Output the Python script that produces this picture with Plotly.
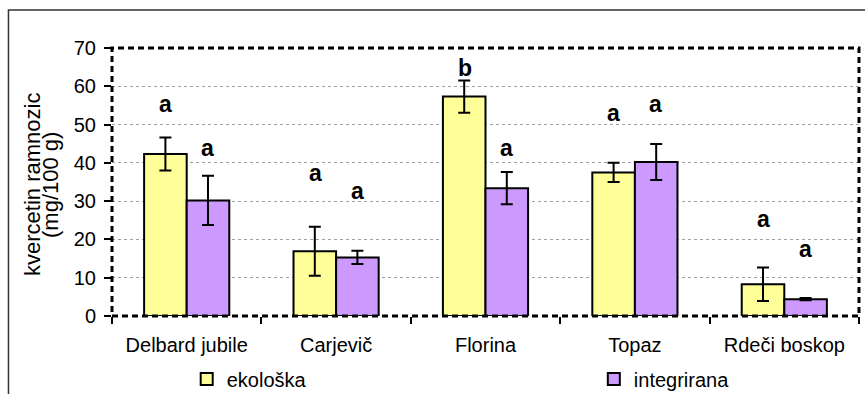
import plotly.graph_objects as go

# Apple cultivars and the two growing systems
cultivars = ["Delbard jubile", "Carjevič", "Florina", "Topaz", "Rdeči boskop"]
series_names = ["ekološka", "integrirana"]

# Quercetin rhamnoside content (mg/100 g) with standard deviations
eko_values = [42.3, 16.9, 57.3, 37.5, 8.3]
eko_errors = [4.3, 6.4, 4.2, 2.5, 4.4]
int_values = [30.2, 15.3, 33.4, 40.2, 4.4]
int_errors = [6.4, 1.75, 4.2, 4.7, 0.3]

# Significance letters and the heights where they are written
eko_letters = ["a", "a", "b", "a", "a"]
eko_letter_y = [55.3, 37.3, 64.8, 53.0, 25.3]
int_letters = ["a", "a", "a", "a", "a"]
int_letter_y = [44.0, 32.7, 44.0, 55.4, 17.4]

y_ticks = [0, 10, 20, 30, 40, 50, 60, 70]

FONT = "Liberation Sans, Arial, sans-serif"
YELLOW = "#FFFF99"
PURPLE = "#CC99FF"

fig = go.Figure()
for name, vals, errs, color, leg in [
    (series_names[0], eko_values, eko_errors, YELLOW, "legend"),
    (series_names[1], int_values, int_errors, PURPLE, "legend2"),
]:
    fig.add_trace(go.Bar(
        x=cultivars, y=vals, name=name, legend=leg,
        marker=dict(color=color, line=dict(color="black", width=2)),
        error_y=dict(type="data", array=errs, visible=True,
                     color="black", thickness=2, width=6),
    ))

# Letters above each bar
annotations = []
for letters, ys, shift in [(eko_letters, eko_letter_y, -21), (int_letters, int_letter_y, 21)]:
    for cat, letter, yv in zip(cultivars, letters, ys):
        annotations.append(dict(
            x=cat, y=yv, xref="x", yref="y", text=letter, showarrow=False,
            xshift=shift, yanchor="middle",
            font=dict(family=FONT, size=23, color="black", weight="bold"),
        ))

# Two-line y-axis title
annotations.append(dict(x=0, y=0.5, xref="paper", yref="paper", text="kvercetin ramnozic",
                        textangle=-90, showarrow=False, xanchor="center", yanchor="middle",
                        xshift=-80, yshift=-3, font=dict(family=FONT, size=22, color="black")))
annotations.append(dict(x=0, y=0.5, xref="paper", yref="paper", text="(mg/100 g)",
                        textangle=-90, showarrow=False, xanchor="center", yanchor="middle",
                        xshift=-62, yshift=-3, font=dict(family=FONT, size=22, color="black")))

shapes = [
    # dashed plot-area border
    dict(type="rect", xref="paper", yref="paper", x0=0, y0=0, x1=1, y1=1,
         line=dict(color="black", width=3, dash="6px,4px"), layer="above"),
    # outer chart frame
    dict(type="rect", xref="paper", yref="paper", x0=-0.1386, y0=-0.6, x1=1.3, y1=1.1418,
         line=dict(color="#333333", width=1.5), layer="above"),
]

legend_style = dict(orientation="h", xanchor="left", y=-0.235, yanchor="middle",
                    font=dict(family=FONT, size=20, color="black"),
                    bgcolor="rgba(0,0,0,0)")

fig.update_layout(
    width=865, height=394,
    margin=dict(l=112, r=6, t=48, b=78, autoexpand=False),
    paper_bgcolor="white", plot_bgcolor="white",
    barmode="group", bargap=0.43, bargroupgap=0,
    font=dict(family=FONT, size=20, color="black"),
    showlegend=True,
    legend=dict(x=0.1, **legend_style),
    legend2=dict(x=0.645, **legend_style),
    annotations=annotations,
    shapes=shapes,
)

fig.update_xaxes(type="category", tickson="boundaries", ticks="outside", ticklen=7,
                 tickwidth=1.5, tickcolor="black", showgrid=False, showline=False,
                 automargin=False, ticklabelstandoff=15, tickfont=dict(family=FONT, size=20))
fig.update_yaxes(range=[0, 70], tickvals=y_ticks, ticks="outside", ticklen=7,
                 tickwidth=1.5, tickcolor="black", showline=False, zeroline=False,
                 showgrid=True, gridcolor="#a0a0a0", gridwidth=1, griddash="dot",
                 automargin=False, ticklabelstandoff=4, tickfont=dict(family=FONT, size=20))

fig.write_html("out.html")
